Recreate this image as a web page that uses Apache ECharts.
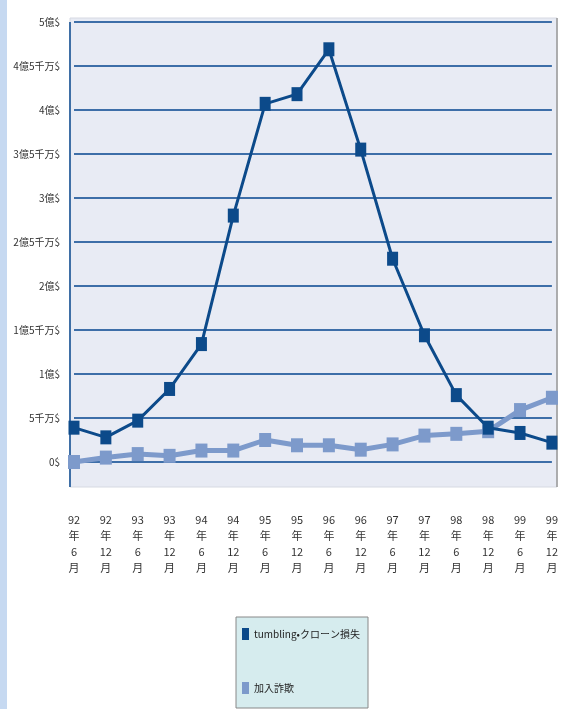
<!DOCTYPE html>
<html>
<head>
<meta charset="utf-8">
<script src="https://cdn.jsdelivr.net/npm/echarts@6/dist/echarts.min.js"></script>
<style>
	html, body { margin: 0; padding: 0; background: #fff; }
	#main { width: 561px; height: 709px; }
</style>
</head>
<body>
<div id="main"></div>
<script>
// 期間 (半期ごと)
var categories = ['92\n年\n6\n月', '92\n年\n12\n月', '93\n年\n6\n月', '93\n年\n12\n月',
	'94\n年\n6\n月', '94\n年\n12\n月', '95\n年\n6\n月', '95\n年\n12\n月',
	'96\n年\n6\n月', '96\n年\n12\n月', '97\n年\n6\n月', '97\n年\n12\n月',
	'98\n年\n6\n月', '98\n年\n12\n月', '99\n年\n6\n月', '99\n年\n12\n月'];
var seriesNames = ['tumbling•クローン損失', '加入詐欺'];
// 単位: 億ドル
var cloneLoss = [0.39, 0.28, 0.47, 0.83, 1.34, 2.80, 4.07, 4.18, 4.69, 3.55, 2.31, 1.44, 0.76, 0.39, 0.33, 0.22];
var subscriptionFraud = [0.0, 0.05, 0.09, 0.07, 0.13, 0.13, 0.25, 0.19, 0.19, 0.14, 0.2, 0.3, 0.32, 0.35, 0.59, 0.73];

function yLabel(v) {
	if (v === 0) return '0$';
	var oku = Math.floor(v);
	var half = v - oku > 0.01;
	if (oku === 0) return '5千万$';
	return oku + '億' + (half ? '5千万' : '') + '$';
}

var option = {
	animation: false,
	textStyle: {
		fontFamily: 'Noto Sans CJK JP'
	},
	graphic: [{
		type: 'rect',
		z: -10,
		shape: { x: 0, y: 0, width: 7, height: 709 },
		style: { fill: '#c6d9f1' }
	}, {
		type: 'rect',
		z: -10,
		shape: { x: 70, y: 18, width: 487, height: 469 },
		style: { fill: '#e8ebf4', stroke: '#d6d9e2', lineWidth: 1 }
	}, {
		type: 'line',
		z: -9,
		shape: { x1: 70, y1: 22, x2: 70, y2: 487 },
		style: { stroke: '#3f6fa6', lineWidth: 2 }
	}, {
		type: 'line',
		z: -9,
		shape: { x1: 557, y1: 18, x2: 557, y2: 487 },
		style: { stroke: '#999', lineWidth: 1.5 }
	}],
	grid: {
		left: 74,
		right: 5,
		top: 22,
		bottom: 247
	},
	legend: {
		orient: 'vertical',
		left: 236,
		top: 617,
		backgroundColor: '#d6ecee',
		borderColor: '#888',
		borderWidth: 1,
		padding: [11, 8, 14, 6],
		itemGap: 42,
		itemWidth: 7,
		itemHeight: 12,
		icon: 'rect',
		textStyle: {
			fontSize: 10,
			color: '#222'
		},
		data: seriesNames
	},
	xAxis: [{
		type: 'category',
		boundaryGap: false,
		data: categories,
		axisLine: { show: false },
		axisTick: { show: false },
		axisLabel: {
			interval: 0,
			margin: 50,
			fontSize: 11,
			lineHeight: 16,
			color: '#333'
		}
	}],
	yAxis: [{
		type: 'value',
		min: 0,
		max: 5,
		interval: 0.5,
		axisLine: { show: false },
		axisTick: { show: false },
		axisLabel: {
			fontSize: 10,
			color: '#333',
			margin: 14,
			formatter: yLabel
		},
		splitLine: {
			lineStyle: {
				color: '#3d6ea8',
				width: 2
			}
		}
	}],
	series: [{
		name: seriesNames[1],
		type: 'line',
		data: subscriptionFraud,
		symbol: 'rect',
		symbolSize: [12, 14],
		z: 3,
		lineStyle: { color: '#7d9acb', width: 5 },
		itemStyle: { color: '#7d9acb' }
	}, {
		name: seriesNames[0],
		type: 'line',
		data: cloneLoss,
		symbol: 'rect',
		symbolSize: [11, 14],
		z: 4,
		lineStyle: { color: '#0c4a8a', width: 3 },
		itemStyle: { color: '#0c4a8a' }
	}]
};
var my = echarts.init(document.getElementById('main'));
my.setOption(option);
</script>
</body>
</html>
